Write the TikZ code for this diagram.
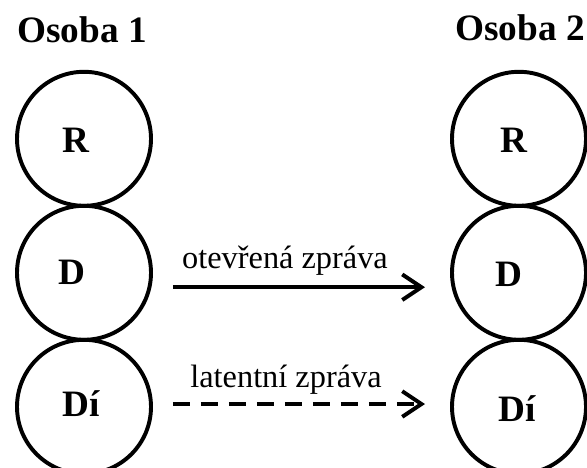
\documentclass[tikz,border=0pt]{standalone}
\usepackage{fontspec}
\setmainfont{Liberation Serif}
\usepackage{tikz}
\usetikzlibrary{arrows.meta, positioning, calc}

\begin{document}
\begin{tikzpicture}[
    osoba/.style={draw, circle, line width=2.8pt, minimum size=3.35cm, inner sep=0pt},
    pismeno/.style={font=\fontsize{26.5}{30}\selectfont\bfseries, inner sep=0pt},
    nadpis/.style={font=\fontsize{26.5}{30}\selectfont\bfseries, anchor=base, inner sep=0pt},
    zprava/.style={line width=2.8pt, -{Straight Barb[length=4.8mm, width=6.4mm]}},
    popis/.style={font=\fontsize{23}{27}\selectfont, anchor=base, inner sep=0pt}
  ]
  \useasboundingbox (0,0) rectangle (14.675,-11.7);

  % Osoba 1
  \node[nadpis] (nadpis1) at (2.05,-1.075) {Osoba 1};
  \node[osoba] (r1) at (2.1,-3.47) {};
  \node[osoba] (d1) at (2.1,-6.82) {};
  \node[osoba] (di1) at (2.1,-10.17) {};
  \node[pismeno] (r1txt) at (1.9,-3.51) {R};
  \node[pismeno] (d1txt) at (1.8,-6.81) {D};
  \node[pismeno] (di1txt) at (2.025,-10.1) {Dí};

  % Osoba 2
  \node[nadpis] (nadpis2) at (13.0,-1.025) {Osoba 2};
  \node[osoba] (r2) at (12.975,-3.47) {};
  \node[osoba] (d2) at (12.975,-6.82) {};
  \node[osoba] (di2) at (12.975,-10.17) {};
  \node[pismeno] (r2txt) at (12.85,-3.51) {R};
  \node[pismeno] (d2txt) at (12.725,-6.865) {D};
  \node[pismeno] (di2txt) at (12.925,-10.225) {Dí};

  % Zpravy mezi osobami
  \draw[zprava, shorten <=0.5cm, shorten >=0.626cm] ([yshift=-0.36cm]d1.east) -- ([yshift=-0.36cm]d2.west);
  \node[popis] (otevrena) at (7.125,-6.7) {otevřená zpráva};

  \draw[zprava, dash pattern=on 0.425cm off 0.275cm, shorten <=0.5cm, shorten >=0.626cm] ([yshift=0.07cm]di1.east) -- ([yshift=0.07cm]di2.west);
  \node[popis] (latentni) at (7.15,-9.675) {latentní zpráva};
\end{tikzpicture}
\end{document}
